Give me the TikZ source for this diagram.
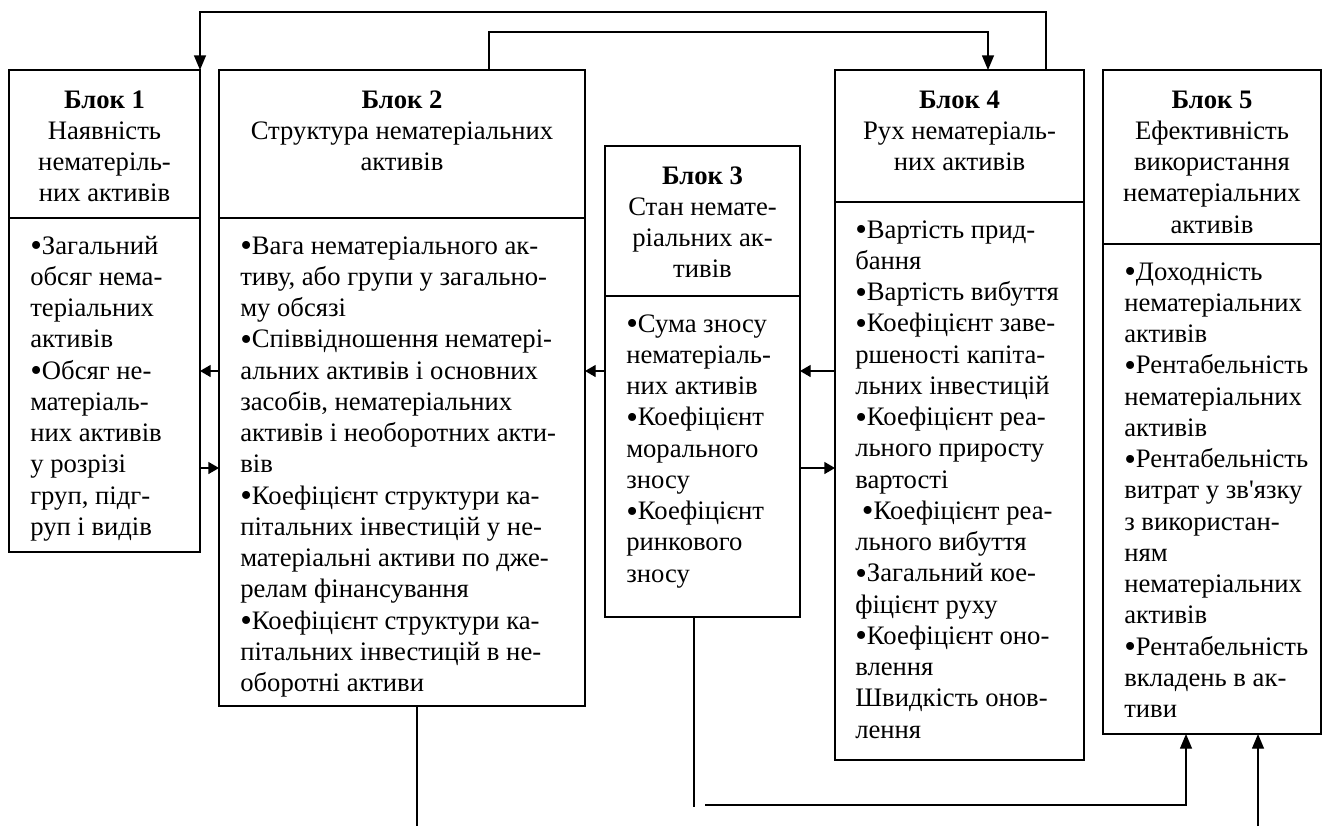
\documentclass[tikz,border=0pt]{standalone}
\usepackage{fontspec}
\newfontfamily\tnr{Liberation Serif}
\usetikzlibrary{arrows.meta}
\newcommand{\frm}[5]{%
  \pgfmathsetmacro{\frmw}{(#4-#2)*0.75}%
  \pgfmathsetmacro{\frmh}{(#5-#3)*0.75}%
  \node[frame, anchor=north west, minimum width=\frmw pt, minimum height=\frmh pt] (#1) at (#2,#3) {};}
\newcommand{\bul}{\raisebox{-1.8pt}{\fontsize{25}{23.44}\selectfont •}}
\begin{document}
\begin{tikzpicture}[x=0.75pt,y=-0.75pt,
  frame/.style={draw, line width=1.1pt, inner sep=0pt, outer sep=0pt},
  conn/.style={line width=1pt},
  arr/.style={conn, -{Triangle[length=11pt,width=9pt]}},
  sarr/.style={conn, -{Triangle[length=8pt,width=9pt]}},
  txt/.style={inner sep=0pt, font=\tnr\fontsize{20}{23.44}\selectfont},
  head/.style={txt, anchor=north, align=center},
  body/.style={txt, anchor=north west, align=left}]
\useasboundingbox (0,0) rectangle (1325,826);

% frames
\frm{h1}{9}{70}{200}{218}
\frm{b1}{9}{218}{200}{552}
\frm{h2}{219}{70}{585}{218}
\frm{b2}{219}{218}{585}{706}
\frm{h3}{605}{146}{800}{296}
\frm{b3}{605}{296}{800}{617}
\frm{h4}{835}{70}{1084}{202}
\frm{b4}{835}{202}{1084}{760}
\frm{h5}{1103}{70}{1321}{244}
\frm{b5}{1103}{244}{1321}{734}

% headers
\node[head] (th1) at (104.5,86) {\strut\textbf{Блок 1}\\Наявність\\нематеріль-\\них активів};
\node[head] (th2) at (402,86) {\strut\textbf{Блок 2}\\Структура нематеріальних\\активів};
\node[head] (th3) at (702.5,162) {\strut\textbf{Блок 3}\\Стан немате-\\ріальних ак-\\тивів};
\node[head] (th4) at (959.5,86) {\strut\textbf{Блок 4}\\Рух нематеріаль-\\них активів};
\node[head] (th5) at (1212,86) {\strut\textbf{Блок 5}\\Ефективність\\використання\\нематеріальних\\активів};

% bodies
\node[body] (tb1) at (30,232) {\strut\bul Загальний\\обсяг нема-\\теріальних\\активів\\\bul Обсяг не-\\матеріаль-\\них активів\\у розрізі\\груп, підг-\\руп і видів};
\node[body] (tb2) at (240,232) {\strut\bul Вага нематеріального ак-\\тиву, або групи у загально-\\му обсязі\\\bul Співвідношення нематері-\\альних активів і основних\\засобів, нематеріальних\\активів і необоротних акти-\\вів\\\bul Коефіцієнт структури ка-\\пітальних інвестицій у не-\\матеріальні активи по дже-\\релам фінансування\\\bul Коефіцієнт структури ка-\\пітальних інвестицій в не-\\оборотні активи};
\node[body] (tb3) at (626,310) {\strut\bul Сума зносу\\нематеріаль-\\них активів\\\bul Коефіцієнт\\морального\\зносу\\\bul Коефіцієнт\\ринкового\\зносу};
\node[body] (tb4) at (855,216) {\strut\bul Вартість прид-\\бання\\\bul Вартість вибуття\\\bul Коефіцієнт заве-\\ршеності капіта-\\льних інвестицій\\\bul Коефіцієнт реа-\\льного приросту\\вартості\\\hspace{0.25em}\bul Коефіцієнт реа-\\льного вибуття\\\bul Загальний кое-\\фіцієнт руху\\\bul Коефіцієнт оно-\\влення\\Швидкість онов-\\лення};
\node[body] (tb5) at (1124,258) {\strut\bul Доходність\\нематеріальних\\активів\\\bul Рентабельність\\нематеріальних\\активів\\\bul Рентабельність\\витрат у зв'язку\\з використан-\\ням\\нематеріальних\\активів\\\bul Рентабельність\\вкладень в ак-\\тиви};

% helper coordinates
\coordinate (t1) at (1046,12);
\coordinate (s1) at (489,32);
\coordinate (s2) at (988,32);
\coordinate (ya) at (0,371);
\coordinate (yb) at (0,468);
\coordinate (c2) at (417,826);
\coordinate (c3) at (694,807);
\coordinate (c4) at (705,805);
\coordinate (c5) at (1186,805);
\coordinate (c6) at (1258,826);

% top connectors
\draw[arr] (t1 |- h4.north) -- (t1) -- (t1 -| h1.north east) -- (h1.north east);
\draw[arr] (s1 |- h2.north) -- (s1) -- (s2) -- (s2 |- h4.north);

% short arrows between blocks
\draw[sarr] (b2.west |- ya) -- (b1.east |- ya);
\draw[sarr] (b1.east |- yb) -- (b2.west |- yb);
\draw[sarr] (b3.west |- ya) -- (b2.east |- ya);
\draw[sarr] (b4.west |- ya) -- (b3.east |- ya);
\draw[sarr] (b3.east |- yb) -- (b4.west |- yb);

% bottom connectors
\draw[conn] (c2 |- b2.south) -- (c2);
\draw[conn] (c3 |- b3.south) -- (c3);
\draw[arr] (c4) -- (c5) -- (c5 |- b5.south);
\draw[arr] (c6) -- (c6 |- b5.south);
\end{tikzpicture}
\end{document}
